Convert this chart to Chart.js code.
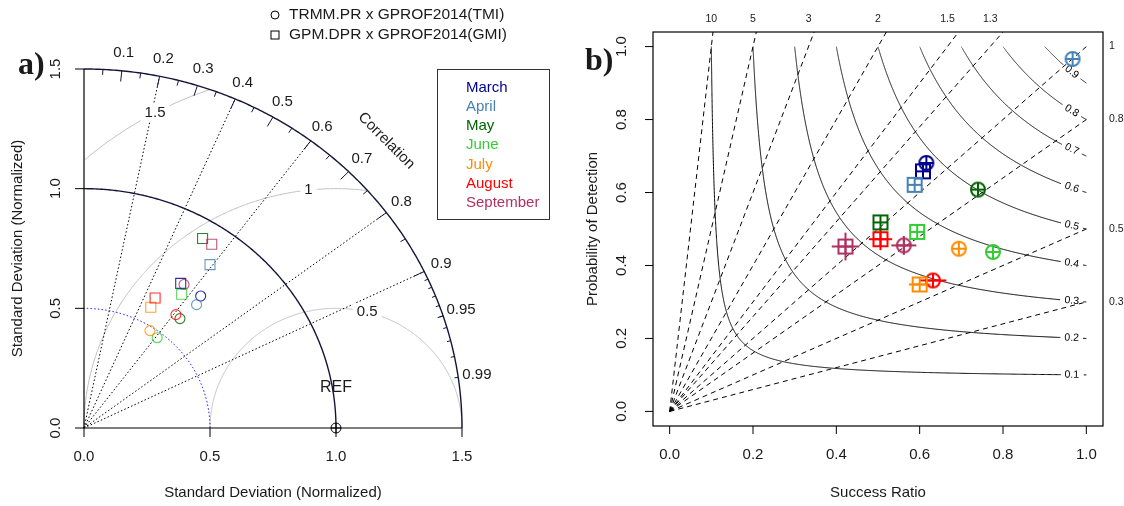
<!DOCTYPE html>
<html>
<head>
<meta charset="utf-8">
<script src="https://cdn.jsdelivr.net/npm/chart.js@4.4.1/dist/chart.umd.min.js"></script>
<style>
  html, body { margin: 0; padding: 0; background: #fff; }
  #wrap { position: relative; width: 1124px; height: 506px; }
  canvas { position: absolute; top: 0; }
  #taylor { left: 0; }
  #perf { left: 560px; }
</style>
</head>
<body>
<div id="wrap">
  <canvas id="taylor" width="560" height="506"></canvas>
  <canvas id="perf" width="564" height="506"></canvas>
</div>
<script>
const months = ['March', 'April', 'May', 'June', 'July', 'August', 'September'];

// Taylor diagram: normalized standard deviation and correlation
const tmiSd  = [0.720, 0.682, 0.595, 0.476, 0.484, 0.598, 0.719];
const tmiCor = [0.643, 0.655, 0.640, 0.610, 0.541, 0.610, 0.552];
const gmiSd  = [0.716, 0.846, 0.921, 0.680, 0.570, 0.612, 0.920];
const gmiCor = [0.536, 0.591, 0.511, 0.570, 0.465, 0.461, 0.551];

// performance diagram: success ratio and probability of detection
const tmiSR  = [0.616, 0.967, 0.740, 0.776, 0.694, 0.632, 0.562];
const tmiPOD = [0.681, 0.966, 0.608, 0.437, 0.446, 0.359, 0.455];
const gmiSR  = [0.608, 0.588, 0.506, 0.594, 0.600, 0.506, 0.422];
const gmiPOD = [0.658, 0.621, 0.518, 0.492, 0.348, 0.472, 0.452];
// half length of the uncertainty bars
const tmiErrSR  = [0, 0, 0, 0, 0, 0.032, 0.030];
const tmiErrPOD = [0, 0, 0, 0, 0, 0, 0.026];
const gmiErrSR  = [0, 0, 0, 0, 0.026, 0.028, 0.033];
const gmiErrPOD = [0, 0, 0, 0, 0, 0.030, 0.038];

// axes / reference lines
const sdTicks = [0, 0.5, 1.0, 1.5];
const corrLabels = [0.1, 0.2, 0.3, 0.4, 0.5, 0.6, 0.7, 0.8, 0.9, 0.95, 0.99];
const corrLines = [0.2, 0.4, 0.6, 0.8, 0.9];
const rmsLevels = [0.5, 1, 1.5];
const refSd = 1;
const perfTicks = [0, 0.2, 0.4, 0.6, 0.8, 1.0];
const biasLevels = [10, 5, 3, 2, 1.5, 1.3, 1, 0.8, 0.5, 0.3];
const csiLevels = [0.1, 0.2, 0.3, 0.4, 0.5, 0.6, 0.7, 0.8, 0.9];

const monthColors = ['#00008B', '#4682B4', '#006400', '#32CD32', '#FF8C00', '#FF0000', '#B03060'];
const SANS = '"Liberation Sans", Arial, sans-serif';
const SERIF = '"Liberation Serif", "Times New Roman", serif';
const INK = '#1a1a1a';

function text(ctx, s, x, y, size, o = {}) {
  ctx.save();
  ctx.font = (o.bold ? 'bold ' : '') + size + 'px ' + (o.family || SANS);
  ctx.fillStyle = o.color || INK;
  ctx.textAlign = o.align || 'center';
  ctx.textBaseline = o.base || 'middle';
  ctx.translate(x, y);
  if (o.rot) ctx.rotate(o.rot);
  ctx.fillText(s, 0, 0);
  ctx.restore();
}

// ---------- a) Taylor diagram ----------
const taylorDecor = {
  id: 'taylorDecor',
  beforeDatasetsDraw(chart) {
    const ctx = chart.ctx;
    const xs = chart.scales.x, ys = chart.scales.y;
    const px = v => xs.getPixelForValue(v), py = v => ys.getPixelForValue(v);
    const maxR = sdTicks[sdTicks.length - 1];
    const path = pts => {
      ctx.beginPath();
      pts.forEach(([x, y], i) => i ? ctx.lineTo(px(x), py(y)) : ctx.moveTo(px(x), py(y)));
    };
    const quarter = r => Array.from({ length: 241 }, (_, i) => {
      const t = i / 240 * Math.PI / 2;
      return [r * Math.cos(t), r * Math.sin(t)];
    });
    ctx.save();

    // centred RMS difference arcs
    ctx.strokeStyle = '#BEBEBE'; ctx.lineWidth = 1;
    rmsLevels.forEach(g => {
      const pts = [];
      for (let i = 0; i <= 600; i++) {
        const t = Math.PI * i / 600;
        const x = refSd + g * Math.cos(t), y = g * Math.sin(t);
        if (x >= 0 && x * x + y * y <= maxR * maxR + 1e-9) pts.push([x, y]);
      }
      path(pts); ctx.stroke();
    });

    // correlation rays
    ctx.strokeStyle = '#000'; ctx.setLineDash([1.5, 2.2]);
    corrLines.forEach(c => {
      path([[0, 0], [maxR * c, maxR * Math.sqrt(1 - c * c)]]); ctx.stroke();
    });
    // blue dotted arc
    ctx.strokeStyle = '#0000FF';
    path(quarter(0.5)); ctx.stroke();
    ctx.setLineDash([]);

    // reference sd arc and outer arc
    ctx.strokeStyle = '#15153a'; ctx.lineWidth = 1.4;
    path(quarter(refSd)); ctx.stroke();
    path(quarter(maxR)); ctx.stroke();

    // ticks on the outer arc
    ctx.lineWidth = 1;
    const tick = (c, f) => {
      const a = Math.acos(c);
      path([[Math.cos(a) * maxR, Math.sin(a) * maxR], [Math.cos(a) * maxR * f, Math.sin(a) * maxR * f]]);
      ctx.stroke();
    };
    for (let c = 0.1; c < 0.95; c += 0.1) tick(c, 0.97);
    for (let c = 0.05; c < 1; c += 0.1) tick(c, 0.985);
    for (let c = 0.91; c < 0.995; c += 0.01) tick(c, 0.99);
    corrLabels.forEach(c => {
      const a = Math.acos(c);
      text(ctx, String(c), px(Math.cos(a) * maxR * 1.05), py(Math.sin(a) * maxR * 1.05), 15);
    });
    text(ctx, 'Correlation', px(maxR * 0.8), py(maxR * 0.8), 15, { rot: Math.PI / 4 });

    // RMS labels (boxed)
    rmsLevels.forEach((g, i) => {
      const idx = Math.floor(45 + (70 - 45) * i / (rmsLevels.length - 1));
      const t = (idx - 1) * 0.03;
      const x = px(refSd + g * Math.cos(t)), y = py(g * Math.sin(t));
      ctx.font = '15px ' + SANS;
      const w = ctx.measureText(String(g)).width + 8;
      ctx.fillStyle = '#fff'; ctx.fillRect(x - w / 2, y - 9, w, 18);
      text(ctx, String(g), x, y, 15);
    });

    // axes
    ctx.strokeStyle = '#000'; ctx.lineWidth = 1.2;
    path([[0, 0], [0, maxR]]); ctx.stroke();
    path([[0, 0], [maxR, 0]]); ctx.stroke();
    ctx.lineWidth = 1;
    sdTicks.forEach(v => {
      ctx.beginPath(); ctx.moveTo(px(v), py(0)); ctx.lineTo(px(v), py(0) + 9); ctx.stroke();
      ctx.beginPath(); ctx.moveTo(px(0), py(v)); ctx.lineTo(px(0) - 9, py(v)); ctx.stroke();
      text(ctx, v.toFixed(1), px(v), py(0) + 29, 15);
      text(ctx, v.toFixed(1), px(0) - 28, py(v), 15, { rot: -Math.PI / 2 });
    });
    const a = chart.chartArea;
    text(ctx, 'Standard Deviation (Normalized)', (a.left + a.right) / 2, 493, 15);
    text(ctx, 'Standard Deviation (Normalized)', 18, (a.top + a.bottom) / 2, 15, { rot: -Math.PI / 2 });

    // REF point
    const rx = px(refSd), ry = py(0);
    ctx.beginPath(); ctx.arc(rx, ry, 5, 0, Math.PI * 2); ctx.stroke();
    ctx.beginPath(); ctx.moveTo(rx - 5, ry); ctx.lineTo(rx + 5, ry); ctx.moveTo(rx, ry - 5); ctx.lineTo(rx, ry + 5); ctx.stroke();
    text(ctx, 'REF', rx, py(0.167), 16);

    // panel letter
    text(ctx, 'a)', 18, 66, 32, { bold: true, family: SERIF, align: 'left' });

    // symbol legend
    ctx.strokeStyle = '#000'; ctx.lineWidth = 1;
    ctx.beginPath(); ctx.arc(275, 15, 4, 0, Math.PI * 2); ctx.stroke();
    ctx.strokeRect(271, 31, 8, 8);
    text(ctx, 'TRMM.PR x GPROF2014(TMI)', 289, 15, 15.5, { align: 'left' });
    text(ctx, 'GPM.DPR x GPROF2014(GMI)', 289, 35, 15.5, { align: 'left' });

    // month legend
    ctx.strokeStyle = '#333'; ctx.strokeRect(437.5, 69.5, 112, 150);
    months.forEach((m, i) => text(ctx, m, 466, 88 + i * 19.1, 15, { align: 'left', color: monthColors[i] }));

    ctx.restore();
  }
};

const fade = c => c + 'd0';
const taylorPts = (sd, cor) => sd.map((s, i) => ({ x: s * cor[i], y: s * Math.sqrt(1 - cor[i] * cor[i]) }));

new Chart(document.getElementById('taylor'), {
  type: 'scatter',
  data: {
    datasets: [
      {
        label: 'GPM.DPR x GPROF2014(GMI)',
        data: taylorPts(gmiSd, gmiCor),
        pointStyle: 'rect', pointRadius: 7.07, borderWidth: 1.1,
        borderColor: monthColors.map(fade), backgroundColor: 'rgba(0,0,0,0)', clip: false
      },
      {
        label: 'TRMM.PR x GPROF2014(TMI)',
        data: taylorPts(tmiSd, tmiCor),
        pointStyle: 'circle', pointRadius: 5, borderWidth: 1.1,
        borderColor: monthColors.map(fade), backgroundColor: 'rgba(0,0,0,0)', clip: false
      }
    ]
  },
  options: {
    responsive: false, animation: false, devicePixelRatio: 1, events: [],
    layout: { padding: { left: 84, right: 98, top: 69, bottom: 78 } },
    plugins: { legend: { display: false }, tooltip: { enabled: false } },
    scales: {
      x: { type: 'linear', min: 0, max: 1.5, display: false },
      y: { type: 'linear', min: 0, max: 1.5, display: false }
    }
  },
  plugins: [taylorDecor]
});

// ---------- b) performance diagram ----------
function marker(shape, color) {
  const size = 14, lw = 2, s = 20;
  const c = document.createElement('canvas');
  c.width = c.height = s;
  const g = c.getContext('2d');
  g.strokeStyle = color; g.lineWidth = lw;
  const m = s / 2, h = size / 2;
  if (shape === 'circle') { g.beginPath(); g.arc(m, m, h, 0, Math.PI * 2); g.stroke(); }
  else g.strokeRect(m - h, m - h, size, size);
  g.beginPath(); g.moveTo(m - h, m); g.lineTo(m + h, m); g.moveTo(m, m - h); g.lineTo(m, m + h); g.stroke();
  return c;
}

const perfDecor = {
  id: 'perfDecor',
  beforeDatasetsDraw(chart) {
    const ctx = chart.ctx, a = chart.chartArea;
    const xs = chart.scales.x, ys = chart.scales.y;
    const px = v => xs.getPixelForValue(v), py = v => ys.getPixelForValue(v);
    ctx.save();
    ctx.strokeStyle = '#000'; ctx.lineWidth = 1;

    // frequency bias lines
    ctx.setLineDash([5, 4]);
    biasLevels.forEach(b => {
      const end = b > 1 ? [ys.max / b, ys.max] : [1, b];
      ctx.beginPath(); ctx.moveTo(px(0), py(0)); ctx.lineTo(px(end[0]), py(end[1])); ctx.stroke();
      if (b > 1) text(ctx, String(b), px(1 / b), a.top - 13, 10.5);
      else text(ctx, String(b), a.right + 6, py(b), 10.5, { align: 'left' });
    });
    ctx.setLineDash([]);

    // critical success index contours, broken around their labels
    const csiPod = (c, sr) => 1 / (1 / c + 1 - 1 / sr);
    csiLevels.forEach(c => {
      const lsr = 0.965, lp = csiPod(c, lsr);
      const lx = px(lsr), ly = py(lp);
      ctx.beginPath();
      let pen = false;
      for (let i = 0; i <= 900; i++) {
        const u = i / 900;
        const sr = c + (1 - c) * u * u * u;
        const x = px(sr), y = py(csiPod(c, sr));
        if (Math.hypot(x - lx, y - ly) < 11) { pen = false; continue; }
        pen ? ctx.lineTo(x, y) : ctx.moveTo(x, y);
        pen = true;
      }
      ctx.stroke();
      const ang = Math.atan2(py(csiPod(c, lsr + 0.01)) - ly, px(lsr + 0.01) - lx);
      text(ctx, String(c), lx, ly, 10.5, { rot: ang, color: '#000' });
    });

    // frame and axes
    ctx.lineWidth = 1.2;
    ctx.strokeRect(a.left, a.top, a.width, a.height);
    ctx.lineWidth = 1;
    perfTicks.forEach(v => {
      ctx.beginPath(); ctx.moveTo(px(v), a.bottom); ctx.lineTo(px(v), a.bottom + 8); ctx.stroke();
      ctx.beginPath(); ctx.moveTo(a.left, py(v)); ctx.lineTo(a.left - 8, py(v)); ctx.stroke();
      text(ctx, v.toFixed(1), px(v), a.bottom + 29, 15);
      text(ctx, v.toFixed(1), a.left - 31, py(v), 15, { rot: -Math.PI / 2 });
    });
    text(ctx, 'Success Ratio', (a.left + a.right) / 2, 493, 15);
    text(ctx, 'Probability of Detection', 33, (a.top + a.bottom) / 2, 15, { rot: -Math.PI / 2 });
    text(ctx, 'b)', 25, 62, 32, { bold: true, family: SERIF, align: 'left' });

    // uncertainty bars
    ctx.lineWidth = 2;
    const bars = (sr, pod, esr, epod) => sr.forEach((s, i) => {
      ctx.strokeStyle = monthColors[i];
      if (esr[i]) { ctx.beginPath(); ctx.moveTo(px(s - esr[i]), py(pod[i])); ctx.lineTo(px(s + esr[i]), py(pod[i])); ctx.stroke(); }
      if (epod[i]) { ctx.beginPath(); ctx.moveTo(px(s), py(pod[i] - epod[i])); ctx.lineTo(px(s), py(pod[i] + epod[i])); ctx.stroke(); }
    });
    bars(gmiSR, gmiPOD, gmiErrSR, gmiErrPOD);
    bars(tmiSR, tmiPOD, tmiErrSR, tmiErrPOD);
    ctx.restore();
  }
};

new Chart(document.getElementById('perf'), {
  type: 'scatter',
  data: {
    datasets: [
      {
        label: 'GPM.DPR x GPROF2014(GMI)',
        data: gmiSR.map((s, i) => ({ x: s, y: gmiPOD[i] })),
        pointStyle: monthColors.map(c => marker('rect', c)), clip: false
      },
      {
        label: 'TRMM.PR x GPROF2014(TMI)',
        data: tmiSR.map((s, i) => ({ x: s, y: tmiPOD[i] })),
        pointStyle: monthColors.map(c => marker('circle', c)), clip: false
      }
    ]
  },
  options: {
    responsive: false, animation: false, devicePixelRatio: 1, events: [],
    layout: { padding: { left: 93, right: 21, top: 32, bottom: 80 } },
    plugins: { legend: { display: false }, tooltip: { enabled: false } },
    scales: {
      x: { type: 'linear', min: -0.04, max: 1.04, display: false },
      y: { type: 'linear', min: -0.04, max: 1.04, display: false }
    }
  },
  plugins: [perfDecor]
});
</script>
</body>
</html>
